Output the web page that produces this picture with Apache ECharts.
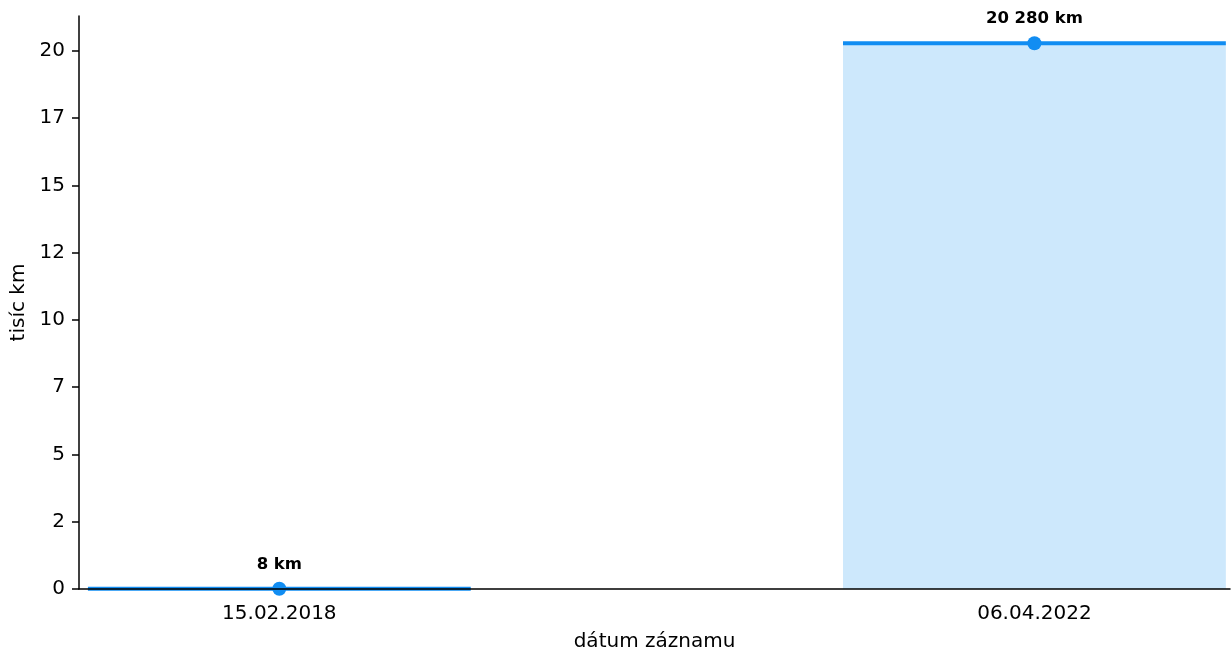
<!DOCTYPE html>
<html>
<head>
<meta charset="utf-8">
<script src="https://cdn.jsdelivr.net/npm/echarts@6/dist/echarts.min.js"></script>
<style>
  html, body { margin: 0; padding: 0; background: #fff; }
  #chart { width: 1231px; height: 653px; }
</style>
</head>
<body>
<div id="chart"></div>
<script>
// data
var dates = ['15.02.2018', '06.04.2022'];
var distanceKm = [8, 20280];
var yTicks = [0, 2.5, 5, 7.5, 10, 12.5, 15, 17.5, 20];

var halfWidth = 0.2535;
var font = 'DejaVu Sans';

function fmtKm(v) {
  return String(v).replace(/\B(?=(\d{3})+(?!\d))/g, ' ') + ' km';
}

var points = distanceKm.map(function (v, i) {
  return [i, v / 1000, v];
});

var chart = echarts.init(document.getElementById('chart'));

var option = {
  backgroundColor: '#fff',
  animation: false,
  grid: { left: 79, right: 1, top: 16, bottom: 64, outerBoundsMode: 'none' },
  xAxis: {
    type: 'value',
    min: -0.2653,
    max: 1.259,
    z: 5,
    name: 'dátum záznamu',
    nameLocation: 'middle',
    nameGap: 43,
    nameTextStyle: { fontFamily: font, fontSize: 20, color: '#000' },
    axisLine: { onZero: false, lineStyle: { color: '#000', width: 1.5 } },
    axisTick: { show: false },
    axisLabel: {
      customValues: [0, 1],
      margin: 15,
      fontFamily: font,
      fontSize: 20,
      color: '#000',
      formatter: function (v) { return dates[Math.round(v)]; }
    },
    splitLine: { show: false }
  },
  yAxis: {
    type: 'value',
    min: 0,
    max: 20.28 * 1.05,
    z: 5,
    name: 'tisíc km',
    nameLocation: 'middle',
    nameGap: 48,
    nameTextStyle: { fontFamily: font, fontSize: 20, color: '#000' },
    axisLine: { show: true, onZero: false, lineStyle: { color: '#000', width: 1.5 } },
    axisTick: { show: true, customValues: yTicks, length: 7, lineStyle: { color: '#000', width: 1.5 } },
    axisLabel: {
      customValues: yTicks,
      margin: 14,
      fontFamily: font,
      fontSize: 20,
      color: '#000',
      formatter: function (v) { return String(Math.floor(v)); }
    },
    splitLine: { show: false }
  },
  series: [
    {
      type: 'custom',
      data: points,
      encode: { x: 0, y: 1 },
      renderItem: function (params, api) {
        var x = api.value(0), y = api.value(1);
        var p0 = api.coord([x - halfWidth, 0]);
        var p1 = api.coord([x + halfWidth, y]);
        return {
          type: 'group',
          children: [
            {
              type: 'rect',
              shape: { x: p0[0], y: p1[1], width: p1[0] - p0[0], height: p0[1] - p1[1] },
              style: { fill: '#cde8fc' }
            },
            {
              type: 'line',
              shape: { x1: p0[0], y1: p1[1], x2: p1[0], y2: p1[1] },
              style: { stroke: '#118df2', lineWidth: 4 }
            }
          ]
        };
      }
    },
    {
      type: 'scatter',
      data: points,
      symbolSize: 14,
      itemStyle: { color: '#118df2', opacity: 1 },
      z: 4,
      label: {
        show: true,
        position: 'top',
        distance: 9,
        fontFamily: font,
        fontSize: 16.5,
        fontWeight: 'bold',
        color: '#000',
        formatter: function (p) { return fmtKm(p.data[2]); }
      }
    }
  ]
};

chart.setOption(option);
</script>
</body>
</html>
